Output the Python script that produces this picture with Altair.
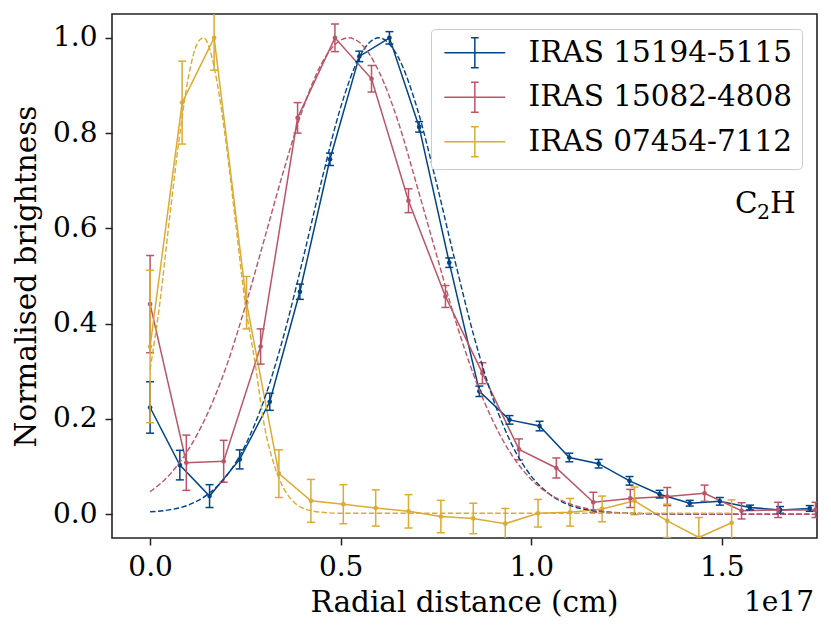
import altair as alt
import pandas as pd

# ---------------- data (radial distance in units of 1e17 cm) ----------------
NAMES = ["IRAS 15194-5115", "IRAS 15082-4808", "IRAS 07454-7112"]
COLORS = ["#004488", "#BB5566", "#DDAA33"]

blue_r = [0.000, 0.078, 0.156, 0.235, 0.314, 0.393, 0.472, 0.549, 0.628, 0.706, 0.785, 0.864,
          0.943, 1.022, 1.100, 1.177, 1.258, 1.337, 1.416, 1.495, 1.574, 1.653, 1.731]
blue_b = [0.224, 0.103, 0.038, 0.115, 0.236, 0.467, 0.745, 0.961, 1.000, 0.813, 0.528, 0.258,
          0.198, 0.185, 0.119, 0.106, 0.070, 0.042, 0.023, 0.027, 0.014, 0.009, 0.012]
blue_e = [0.054, 0.031, 0.024, 0.020, 0.018, 0.016, 0.013, 0.011, 0.013, 0.011, 0.010, 0.011,
          0.009, 0.010, 0.009, 0.009, 0.009, 0.008, 0.006, 0.008, 0.005, 0.007, 0.006]

red_r = [0.000, 0.095, 0.193, 0.290, 0.387, 0.485, 0.581, 0.678, 0.775, 0.872, 0.968, 1.066,
         1.163, 1.260, 1.357, 1.455, 1.552, 1.648, 1.746]
red_b = [0.441, 0.108, 0.111, 0.352, 0.832, 1.000, 0.914, 0.658, 0.457, 0.296, 0.136, 0.097,
         0.025, 0.033, 0.037, 0.044, 0.007, 0.009, 0.009]
red_e = [0.102, 0.058, 0.044, 0.037, 0.032, 0.029, 0.028, 0.025, 0.023, 0.022, 0.022, 0.021,
         0.021, 0.019, 0.019, 0.017, 0.017, 0.016, 0.016]

yellow_r = [0.000, 0.084, 0.168, 0.253, 0.338, 0.422, 0.507, 0.592, 0.678, 0.763, 0.848, 0.932,
            1.018, 1.102, 1.186, 1.271, 1.357, 1.440, 1.526]
yellow_b = [0.352, 0.864, 1.000, 0.444, 0.085, 0.028, 0.021, 0.013, 0.006, -0.005, -0.009, -0.020,
            0.002, 0.004, 0.011, 0.028, -0.014, -0.049, -0.018]
yellow_e = [0.160, 0.087, 0.068, 0.055, 0.050, 0.045, 0.041, 0.038, 0.035, 0.034, 0.032, 0.032,
            0.029, 0.029, 0.027, 0.029, 0.035, 0.042, 0.048]

# fitted profiles (dashed)
blue_fit_r = [0.00, 0.05, 0.10, 0.15, 0.20, 0.25, 0.30, 0.35, 0.40, 0.45, 0.50, 0.55, 0.60, 0.65,
              0.70, 0.75, 0.80, 0.85, 0.90, 0.95, 1.00, 1.05, 1.10, 1.15, 1.20, 1.30, 1.40, 1.55, 1.73]
blue_fit_b = [0.005, 0.009, 0.019, 0.041, 0.080, 0.145, 0.242, 0.373, 0.532, 0.700, 0.854, 0.961,
              1.000, 0.961, 0.854, 0.700, 0.532, 0.373, 0.242, 0.145, 0.080, 0.041, 0.019, 0.009,
              0.004, 0.001, 0.000, 0.000, 0.000]

red_fit_r = [0.00, 0.05, 0.10, 0.15, 0.20, 0.25, 0.30, 0.35, 0.40, 0.45, 0.50, 0.52, 0.55, 0.60,
             0.65, 0.70, 0.75, 0.80, 0.85, 0.90, 0.95, 1.00, 1.05, 1.10, 1.15, 1.20, 1.30, 1.45,
             1.60, 1.746]
red_fit_b = [0.047, 0.082, 0.135, 0.210, 0.310, 0.437, 0.578, 0.720, 0.849, 0.946, 0.995, 1.000,
             0.990, 0.930, 0.826, 0.690, 0.549, 0.410, 0.290, 0.195, 0.123, 0.073, 0.041, 0.022,
             0.011, 0.005, 0.001, 0.000, 0.000, 0.000]

yellow_fit_r = [0.000, 0.025, 0.050, 0.075, 0.100, 0.125, 0.140, 0.175, 0.200, 0.225, 0.250, 0.275,
                0.300, 0.325, 0.350, 0.375, 0.400, 0.450, 0.500, 0.600, 0.800, 1.000, 1.250, 1.526]
yellow_fit_b = [0.304, 0.440, 0.614, 0.780, 0.915, 0.990, 1.000, 0.910, 0.775, 0.607, 0.440, 0.320,
                0.185, 0.105, 0.055, 0.027, 0.013, 0.004, 0.002, 0.002, 0.002, 0.002, 0.002, 0.002]

X_TICKS = [0.0, 0.5, 1.0, 1.5]
Y_TICKS = [0.0, 0.2, 0.4, 0.6, 0.8, 1.0]
X_TITLE = "Radial distance (cm)"
Y_TITLE = "Normalised brightness"
MOL_MAIN = ["C", "H"]
MOL_SUB = ["2"]
OFFSET_TEXT = ["1e17"]

OBS = [(blue_r, blue_b, blue_e), (red_r, red_b, red_e), (yellow_r, yellow_b, yellow_e)]
FITS = [(blue_fit_r, blue_fit_b), (red_fit_r, red_fit_b), (yellow_fit_r, yellow_fit_b)]

# ---------------- tables ----------------
def obs_table(name, rr, bb, ee):
    return pd.DataFrame({"series": name, "r": rr, "b": bb,
                         "lo": [b - e for b, e in zip(bb, ee)],
                         "hi": [b + e for b, e in zip(bb, ee)]})

obs_tables = [obs_table(n, *o) for n, o in zip(NAMES, OBS)]
obs_all = pd.concat(obs_tables, ignore_index=True)
fit_tables = [pd.DataFrame({"series": n, "r": f[0], "b": f[1]}) for n, f in zip(NAMES, FITS)]

FONT = "DejaVu Serif"
FS = 28      # tick labels
TFS = 29.5   # titles, legend, annotations

xscale = alt.Scale(domain=[-0.1, 1.75], nice=False, zero=False)
yscale = alt.Scale(domain=[-0.05, 1.05], nice=False, zero=False)
cscale = alt.Scale(domain=NAMES, range=COLORS)

x_axis = alt.Axis(values=X_TICKS, format=".1f", title=X_TITLE, grid=False, domain=False,
                  tickSize=7, tickWidth=1.5, tickColor="#222222", labelPadding=8,
                  labelFontSize=FS, labelColor="black", titleFontSize=TFS, titleColor="black",
                  titleFontWeight="normal", titleBaseline="alphabetic", titleX=352, titleY=73)
y_axis = alt.Axis(values=Y_TICKS, format=".1f", title=Y_TITLE, grid=False, domain=False,
                  tickSize=7, tickWidth=1.5, tickColor="#222222", labelPadding=8,
                  labelFontSize=FS, labelColor="black", titleFontSize=TFS, titleColor="black",
                  titleFontWeight="normal", titleBaseline="alphabetic", titleX=-77, titleY=262)

X = alt.X("r:Q", scale=xscale, axis=x_axis)
Y = alt.Y("b:Q", scale=yscale, axis=y_axis)

# legend glyph: horizontal line with an error bar (custom SVG path)
SYMBOL = ("M-0.85,0L4.12,0M1.64,-1.22L1.64,1.22"
          "M1.33,-1.22L1.95,-1.22M1.33,1.22L1.95,1.22")

legend = alt.Legend(title=None, orient="top-right", offset=15, symbolType=SYMBOL,
                    symbolSize=600, symbolStrokeWidth=1.5, labelFont=FONT, labelFontSize=TFS,
                    labelColor="black", labelOffset=59, labelLimit=500, padding=9,
                    rowPadding=7.5, fillColor="white", strokeColor="#cccccc", cornerRadius=4)

layers = []

# data lines (carry the legend)
layers.append(alt.Chart(obs_all).mark_line(strokeWidth=1.5, clip=True).encode(
    x=X, y=Y, color=alt.Color("series:N", scale=cscale, legend=legend)))

# error bars, caps and markers, per source in fixed colours
for df, col in zip(obs_tables, COLORS):
    base = alt.Chart(df)
    layers.append(base.mark_rule(strokeWidth=1.5, color=col, clip=True).encode(
        x=X, y=alt.Y("lo:Q", scale=yscale, axis=y_axis), y2="hi:Q"))
    for end in ["lo", "hi"]:
        layers.append(base.mark_tick(orient="horizontal", size=8, thickness=1.5, color=col,
                                     opacity=1, clip=True).encode(
            x=X, y=alt.Y(f"{end}:Q", scale=yscale, axis=y_axis)))
    layers.append(base.mark_circle(size=22, opacity=1, color=col, clip=True).encode(x=X, y=Y))

# fitted profiles
for df, col in zip(fit_tables, COLORS):
    layers.append(alt.Chart(df).mark_line(strokeWidth=1.4, strokeDash=[5.5, 2.4], color=col,
                                          clip=True, interpolate="monotone").encode(x=X, y=Y))

# annotations
layers.append(alt.Chart(pd.DataFrame({"t": MOL_MAIN[:1]})).mark_text(
    font=FONT, fontSize=TFS, align="left", baseline="alphabetic", color="black").encode(
    text="t:N", x=alt.value(623), y=alt.value(199)))
layers.append(alt.Chart(pd.DataFrame({"t": MOL_SUB})).mark_text(
    font=FONT, fontSize=20.5, align="left", baseline="alphabetic", color="black").encode(
    text="t:N", x=alt.value(645), y=alt.value(205)))
layers.append(alt.Chart(pd.DataFrame({"t": MOL_MAIN[1:]})).mark_text(
    font=FONT, fontSize=TFS, align="left", baseline="alphabetic", color="black").encode(
    text="t:N", x=alt.value(658), y=alt.value(199)))
layers.append(alt.Chart(pd.DataFrame({"t": OFFSET_TEXT})).mark_text(
    font=FONT, fontSize=FS, align="right", baseline="alphabetic", color="black").encode(
    text="t:N", x=alt.value(702), y=alt.value(597)))

chart = alt.layer(*layers).properties(
    width=705, height=524,
    autosize=alt.AutoSizeParams(type="none"),
    padding={"left": 104, "top": 6, "right": 6, "bottom": 86},
).configure(font=FONT).configure_view(stroke="#222222", strokeWidth=1.6)

chart.save("out.html", embed_options={"renderer": "svg", "actions": False})
